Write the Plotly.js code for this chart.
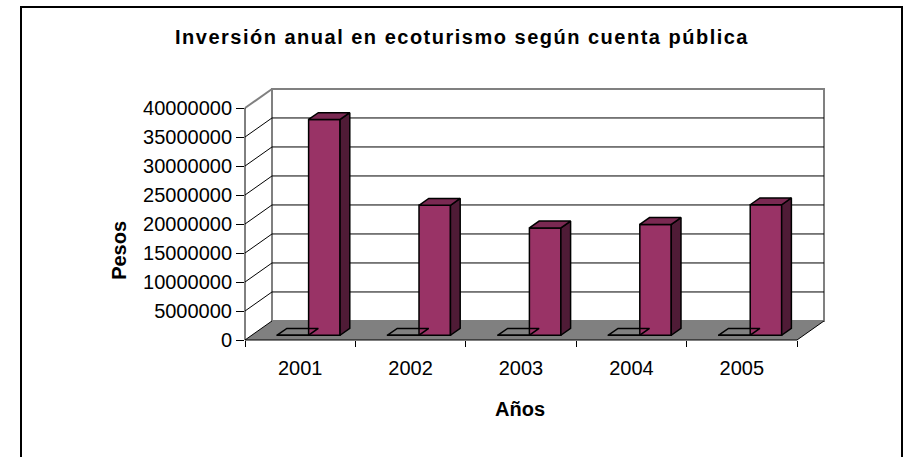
<!DOCTYPE html>
<html><head><meta charset="utf-8">
<script src="https://cdn.plot.ly/plotly-3.0.1.min.js"></script>
<style>html,body{margin:0;padding:0;background:#fff;}#chart{width:906px;height:457px;}
#chart .gtitle{letter-spacing:1.5px;}</style>
</head><body><div id="chart"></div>
<script>
// ---------- data ----------
const anios = [2001, 2002, 2003, 2004, 2005];
const etiquetas = ['2001', '2002', '2003', '2004', '2005'];
const pesos = [37200000, 22400000, 18500000, 19100000, 22500000];
const yTicks = [0, 5000000, 10000000, 15000000, 20000000, 25000000, 30000000, 35000000, 40000000];

// ---------- geometry (pixels of the front plane) ----------
const W = 906, H = 457;
const L = 245, R = 797, T = 108.4, B = 340;
const xMin = -0.5, xMax = 4.5, yMax = 40000000;
const pxX = (R - L) / (xMax - xMin);
const pxY = (B - T) / yMax;
const DX = 27 / pxX, DY = 19 / pxY;     // full depth of the 3D box in data units
const f0 = 0.25, fd = 0.36;             // bar front depth and bar depth (fractions)
const bw = 0.285, offA = -0.27, offB = 0.015;

const PX = x => (x - xMin) / (xMax - xMin);
const PY = y => y / yMax;
const ppx = p => (p - L) / (R - L);
const ppy = p => (B - p) / (B - T);
function path(pts, close) {
  return pts.map((p, i) => (i ? 'L' : 'M') + PX(p[0]).toFixed(5) + ',' + PY(p[1]).toFixed(5)).join(' ') + (close ? ' Z' : '');
}
function shp(d, fill, lc, lw) {
  return {type: 'path', xref: 'paper', yref: 'paper', layer: 'below', path: d,
          fillcolor: fill || 'rgba(0,0,0,0)', line: {color: lc || 'rgba(0,0,0,0)', width: lw || 0}};
}

const shapes = [];
// back wall
shapes.push(shp(path([[xMin + DX, DY], [xMax + DX, DY], [xMax + DX, yMax + DY], [xMin + DX, yMax + DY]], true), '#ffffff', '#808080', 2));
// gridlines (side wall + back wall)
yTicks.forEach(v => {
  if (v === 0 || v === yMax) return;
  shapes.push(shp(path([[xMin, v], [xMin + DX, v + DY], [xMax + DX, v + DY]]), null, '#000000', 1));
});
// side wall top edge
shapes.push(shp(path([[xMin, yMax], [xMin + DX, yMax + DY]]), null, '#808080', 2));
// floor
shapes.push(shp(path([[xMin, 0], [xMax, 0], [xMax + DX, DY], [xMin + DX, DY]], true), '#808080', null, 0));
shapes.push(shp(path([[xMax, 0], [xMax + DX, DY]]), null, '#000000', 1));
shapes.push(shp(path([[xMin, 0], [xMin + DX, DY]]), null, '#000000', 1));
// front axes
shapes.push(shp(path([[xMin, 0], [xMin, yMax]]), null, '#000000', 1));
shapes.push(shp(path([[xMin, 0], [xMax, 0]]), null, '#000000', 1));
// outer frame
shapes.push({type: 'rect', xref: 'paper', yref: 'paper', layer: 'below',
  x0: ppx(21), x1: ppx(902), y0: ppy(458), y1: ppy(7.5), line: {color: '#000', width: 2}, fillcolor: 'rgba(0,0,0,0)'});

// ---------- bars ----------
function faces(off, vals) {
  const side = {x: [], y: []}, top = {x: [], y: []};
  vals.forEach((v, i) => {
    const xl = i + off + f0 * DX, xr = xl + bw;
    const b = f0 * DY, t = b + v;
    const dx = fd * DX, dy = fd * DY;
    side.x.push(xr, xr + dx, xr + dx, xr, xr, null);
    side.y.push(b, b + dy, t + dy, t, b, null);
    top.x.push(xl, xr, xr + dx, xl + dx, xl, null);
    top.y.push(t, t, t + dy, t + dy, t, null);
  });
  return {side, top};
}
const fA = faces(offA, anios);
const fB = faces(offB, pesos);
const poly = (d, fill) => ({type: 'scatter', mode: 'lines', x: d.x, y: d.y, fill: 'toself',
  fillcolor: fill, line: {color: '#000', width: 1.5}, hoverinfo: 'skip', showlegend: false});

const traces = [
  {type: 'bar', x: anios.map((_, i) => i + offA + f0 * DX + bw / 2), y: anios, base: f0 * DY, width: bw,
   marker: {color: '#9999FF', line: {color: '#000', width: 1.5}}, showlegend: false, hoverinfo: 'skip'},
  poly(fA.top, 'rgba(0,0,0,0)'),
  {type: 'bar', x: pesos.map((_, i) => i + offB + f0 * DX + bw / 2), y: pesos, base: f0 * DY, width: bw,
   marker: {color: '#993366', line: {color: '#000', width: 1.5}}, showlegend: false, hoverinfo: 'skip'},
  poly(fB.side, '#4f1b36'),
  poly(fB.top, '#7a2952')
];

const font = 'Liberation Sans, Arial, sans-serif';
const layout = {
  width: W, height: H,
  margin: {l: L, r: W - R, t: T, b: H - B, pad: 0},
  paper_bgcolor: '#ffffff', plot_bgcolor: 'rgba(0,0,0,0)',
  barmode: 'overlay', showlegend: false, hovermode: false,
  font: {family: font, size: 20, color: '#000'},
  title: {text: '<b>Inversión anual en ecoturismo según cuenta pública</b>', x: 462 / W, xref: 'container', xanchor: 'center',
          y: 1 - 37 / H, yref: 'container', yanchor: 'middle', font: {family: font, size: 20, color: '#000'}},
  xaxis: {range: [xMin, xMax], showgrid: false, zeroline: false, showline: false,
          tickmode: 'array', tickvals: [0, 1, 2, 3, 4], ticktext: etiquetas, ticks: '', ticklabelstandoff: 14,
          minor: {tickmode: 'array', tickvals: [-0.5, 0.5, 1.5, 2.5, 3.5, 4.5], ticks: 'outside', ticklen: 6, tickcolor: '#000', tickwidth: 1},
          tickfont: {family: font, size: 20}, fixedrange: true},
  yaxis: {range: [0, yMax], showgrid: false, zeroline: false, showline: false,
          tickmode: 'array', tickvals: yTicks, ticktext: yTicks.map(v => String(v)), ticks: 'outside', ticklen: 8,
          tickcolor: '#000', tickwidth: 1, tickfont: {family: font, size: 20}, fixedrange: true},
  shapes: shapes,
  annotations: [
    {text: '<b>Pesos</b>', xref: 'paper', yref: 'paper', x: ppx(119), y: ppy(251), textangle: -90,
     showarrow: false, xanchor: 'center', yanchor: 'middle', font: {family: font, size: 20}},
    {text: '<b>Años</b>', xref: 'paper', yref: 'paper', x: ppx(520), y: ppy(409),
     showarrow: false, xanchor: 'center', yanchor: 'middle', font: {family: font, size: 20}}
  ]
};
Plotly.newPlot('chart', traces, layout, {staticPlot: true, displayModeBar: false});
</script>
</body></html>
